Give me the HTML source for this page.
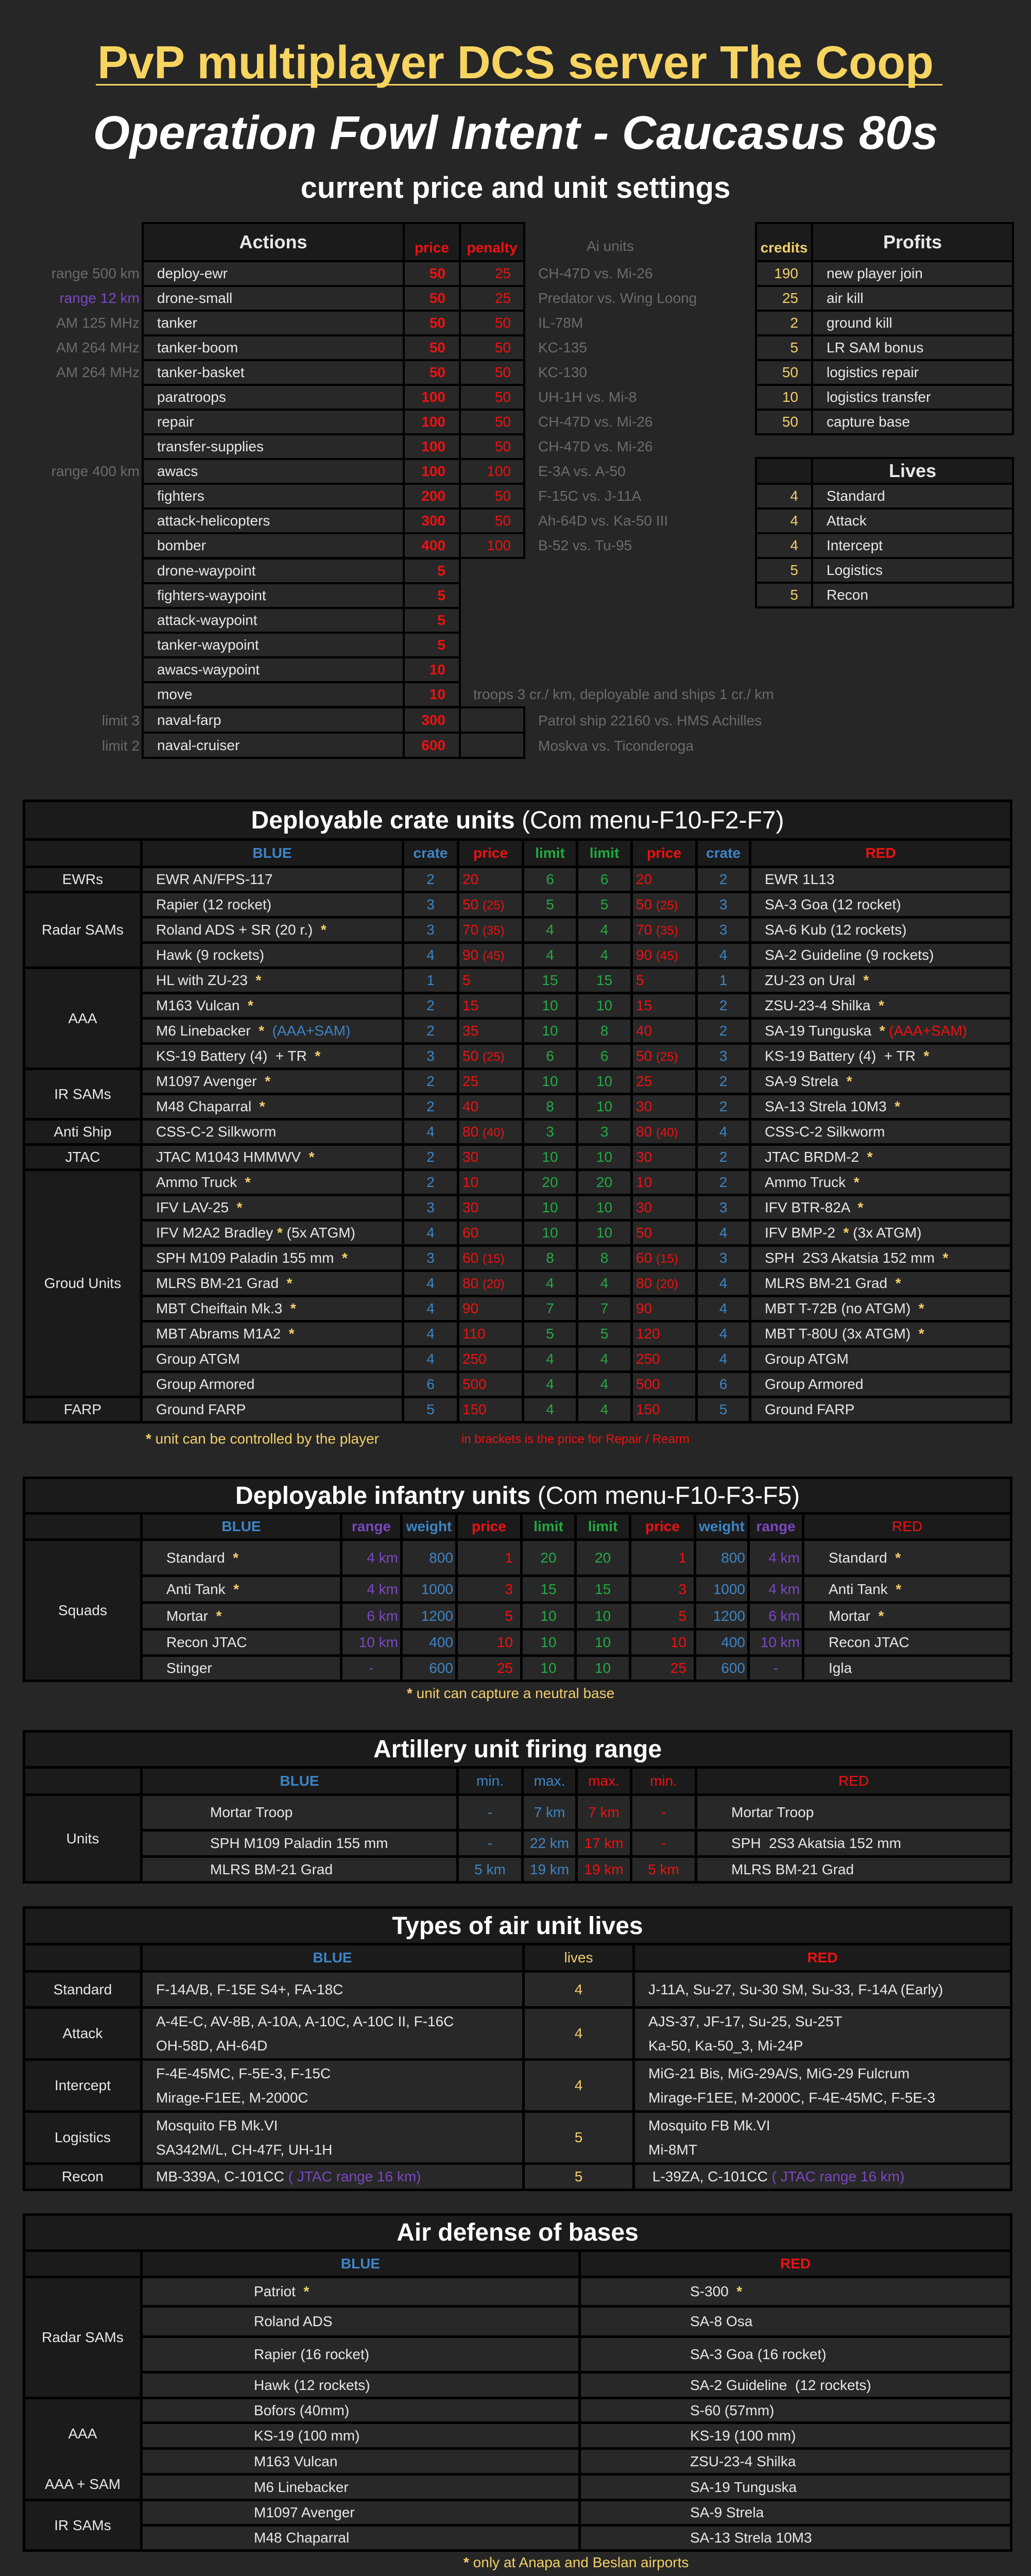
<!DOCTYPE html>
<html><head><meta charset="utf-8">
<style>
*{box-sizing:border-box}
html{margin:0;padding:0;width:2002px;height:5040px;overflow:hidden;background:#262626}
body{margin:0;padding:0;width:2002px;height:5040px;background:#262626;position:relative;overflow:hidden;font-family:"Liberation Sans",Arial,sans-serif;color:#e8e8e8}
.a{position:absolute;white-space:nowrap}
table.t{position:absolute;border-collapse:separate;background:#000;table-layout:fixed}
.t td{background:#282828;color:#e8e8e8;font-size:28px;padding:0;white-space:nowrap;overflow:hidden;vertical-align:middle}
.t td.d{background:#1b1b1b}
.c{text-align:center}
.r{text-align:right}
.bl{color:#3d85c6!important}.rd{color:#ee1111!important}.gr{color:#22aa44!important}.yl{color:#f4d06a!important}.pu{color:#7a48c0!important}.gy{color:#6b6b6b}
.b{font-weight:bold}
.t td.ttl{font-size:48px;font-weight:bold;color:#fff;text-align:center}
.t td.ttl span{font-weight:normal}
.s{font-size:24px}
.st{color:#f4d06a;font-weight:bold}
.n{padding-left:26px!important}
.p{padding-left:6px!important;color:#ee1111!important}
.lb{font-size:28px;color:#6b6b6b;text-align:right;width:260px;left:11px;line-height:44px}
.ai{font-size:28px;color:#6b6b6b;left:1045px;line-height:44px}
.two{line-height:47px}
</style></head><body>

<div class="a" style="left:0;width:2002px;top:77px;text-align:center;font-size:90px;line-height:90px;font-weight:bold;color:#f7d460">PvP multiplayer DCS server The Coop</div>
<div class="a" style="left:186px;width:1644px;top:163px;height:3px;background:#f7d460"></div>
<div class="a" style="left:0;width:2002px;top:212px;text-align:center;font-size:92px;line-height:92px;font-weight:bold;font-style:italic;color:#fff">Operation Fowl Intent - Caucasus 80s</div>
<div class="a" style="left:0;width:2002px;top:336px;text-align:center;font-size:58px;line-height:58px;font-weight:bold;color:#fff">current price and unit settings</div>

<!-- Actions -->
<table class="t" style="left:275px;top:431px;width:745px;border-spacing:4px">
<colgroup><col style="width:503px"><col style="width:105px"><col style="width:121px"></colgroup>
<tr style="height:70px"><td class="d c b" style="font-size:36px">Actions</td><td class="d c b rd" style="vertical-align:bottom;padding-bottom:8px">price</td><td class="d c b rd" style="vertical-align:bottom;padding-bottom:8px">penalty</td></tr>
<tr style="height:44px"><td class="n">deploy-ewr</td><td class="r b rd" style="padding-right:26px">50</td><td class="r rd" style="padding-right:24px">25</td></tr>
<tr style="height:44px"><td class="n">drone-small</td><td class="r b rd" style="padding-right:26px">50</td><td class="r rd" style="padding-right:24px">25</td></tr>
<tr style="height:44px"><td class="n">tanker</td><td class="r b rd" style="padding-right:26px">50</td><td class="r rd" style="padding-right:24px">50</td></tr>
<tr style="height:44px"><td class="n">tanker-boom</td><td class="r b rd" style="padding-right:26px">50</td><td class="r rd" style="padding-right:24px">50</td></tr>
<tr style="height:44px"><td class="n">tanker-basket</td><td class="r b rd" style="padding-right:26px">50</td><td class="r rd" style="padding-right:24px">50</td></tr>
<tr style="height:44px"><td class="n">paratroops</td><td class="r b rd" style="padding-right:26px">100</td><td class="r rd" style="padding-right:24px">50</td></tr>
<tr style="height:44px"><td class="n">repair</td><td class="r b rd" style="padding-right:26px">100</td><td class="r rd" style="padding-right:24px">50</td></tr>
<tr style="height:44px"><td class="n">transfer-supplies</td><td class="r b rd" style="padding-right:26px">100</td><td class="r rd" style="padding-right:24px">50</td></tr>
<tr style="height:44px"><td class="n">awacs</td><td class="r b rd" style="padding-right:26px">100</td><td class="r rd" style="padding-right:24px">100</td></tr>
<tr style="height:44px"><td class="n">fighters</td><td class="r b rd" style="padding-right:26px">200</td><td class="r rd" style="padding-right:24px">50</td></tr>
<tr style="height:44px"><td class="n">attack-helicopters</td><td class="r b rd" style="padding-right:26px">300</td><td class="r rd" style="padding-right:24px">50</td></tr>
<tr style="height:44px"><td class="n">bomber</td><td class="r b rd" style="padding-right:26px">400</td><td class="r rd" style="padding-right:24px">100</td></tr>
</table>
<table class="t" style="left:275px;top:1082px;width:620px;border-spacing:4px">
<colgroup><col style="width:503px"><col style="width:105px"></colgroup>
<tr style="height:44px"><td class="n">drone-waypoint</td><td class="r b rd" style="padding-right:26px">5</td></tr>
<tr style="height:44px"><td class="n">fighters-waypoint</td><td class="r b rd" style="padding-right:26px">5</td></tr>
<tr style="height:44px"><td class="n">attack-waypoint</td><td class="r b rd" style="padding-right:26px">5</td></tr>
<tr style="height:44px"><td class="n">tanker-waypoint</td><td class="r b rd" style="padding-right:26px">5</td></tr>
<tr style="height:44px"><td class="n">awacs-waypoint</td><td class="r b rd" style="padding-right:26px">10</td></tr>
<tr style="height:44px"><td class="n">move</td><td class="r b rd" style="padding-right:26px">10</td></tr>
</table>
<table class="t" style="left:275px;top:1371px;width:745px;border-spacing:4px">
<colgroup><col style="width:503px"><col style="width:105px"><col style="width:121px"></colgroup>
<tr style="height:45px"><td class="n">naval-farp</td><td class="r b rd" style="padding-right:26px">300</td><td></td></tr>
<tr style="height:45px"><td class="n">naval-cruiser</td><td class="r b rd" style="padding-right:26px">600</td><td></td></tr>
</table>

<div class="a lb" style="top:509px">range 500 km</div>
<div class="a lb pu" style="top:557px">range 12 km</div>
<div class="a lb" style="top:605px">AM 125 MHz</div>
<div class="a lb" style="top:653px">AM 264 MHz</div>
<div class="a lb" style="top:701px">AM 264 MHz</div>
<div class="a lb" style="top:893px">range 400 km</div>
<div class="a lb" style="top:1377px">limit 3</div>
<div class="a lb" style="top:1426px">limit 2</div>

<div class="a ai" style="left:1139px;top:456px">Ai units</div>
<div class="a ai" style="top:509px">CH-47D vs. Mi-26</div>
<div class="a ai" style="top:557px">Predator vs. Wing Loong</div>
<div class="a ai" style="top:605px">IL-78M</div>
<div class="a ai" style="top:653px">KC-135</div>
<div class="a ai" style="top:701px">KC-130</div>
<div class="a ai" style="top:749px">UH-1H vs. Mi-8</div>
<div class="a ai" style="top:797px">CH-47D vs. Mi-26</div>
<div class="a ai" style="top:845px">CH-47D vs. Mi-26</div>
<div class="a ai" style="top:893px">E-3A vs. A-50</div>
<div class="a ai" style="top:941px">F-15C vs. J-11A</div>
<div class="a ai" style="top:989px">Ah-64D vs. Ka-50 III</div>
<div class="a ai" style="top:1037px">B-52 vs. Tu-95</div>
<div class="a ai" style="left:919px;top:1326px">troops 3 cr./ km, deployable and ships 1 cr./ km</div>
<div class="a ai" style="top:1377px">Patrol ship 22160 vs. HMS Achilles</div>
<div class="a ai" style="top:1426px">Moskva vs. Ticonderoga</div>

<!-- Profits -->
<table class="t" style="left:1466px;top:431px;width:503px;border-spacing:4px">
<colgroup><col style="width:105px"><col style="width:386px"></colgroup>
<tr style="height:70px"><td class="d c b yl" style="vertical-align:bottom;padding-bottom:8px">credits</td><td class="d c b" style="font-size:36px">Profits</td></tr>
<tr style="height:44px"><td class="r yl" style="padding-right:25px">190</td><td class="n">new player join</td></tr>
<tr style="height:44px"><td class="r yl" style="padding-right:25px">25</td><td class="n">air kill</td></tr>
<tr style="height:44px"><td class="r yl" style="padding-right:25px">2</td><td class="n">ground kill</td></tr>
<tr style="height:44px"><td class="r yl" style="padding-right:25px">5</td><td class="n">LR SAM bonus</td></tr>
<tr style="height:44px"><td class="r yl" style="padding-right:25px">50</td><td class="n">logistics repair</td></tr>
<tr style="height:44px"><td class="r yl" style="padding-right:25px">10</td><td class="n">logistics transfer</td></tr>
<tr style="height:44px"><td class="r yl" style="padding-right:25px">50</td><td class="n">capture base</td></tr>
</table>
<table class="t" style="left:1466px;top:887px;width:503px;border-spacing:4px">
<colgroup><col style="width:105px"><col style="width:386px"></colgroup>
<tr style="height:46px"><td class="d"></td><td class="d c b" style="font-size:36px">Lives</td></tr>
<tr style="height:44px"><td class="r yl" style="padding-right:25px">4</td><td class="n">Standard</td></tr>
<tr style="height:44px"><td class="r yl" style="padding-right:25px">4</td><td class="n">Attack</td></tr>
<tr style="height:44px"><td class="r yl" style="padding-right:25px">4</td><td class="n">Intercept</td></tr>
<tr style="height:44px"><td class="r yl" style="padding-right:25px">5</td><td class="n">Logistics</td></tr>
<tr style="height:44px"><td class="r yl" style="padding-right:25px">5</td><td class="n">Recon</td></tr>
</table>

<!-- Crate units -->
<table class="t" style="left:44px;top:1552px;width:1922px;border-spacing:5px">
<colgroup><col style="width:223px"><col style="width:503px"><col style="width:102px"><col style="width:121px"><col style="width:100px"><col style="width:101px"><col style="width:121px"><col style="width:99px"><col style="width:502px"></colgroup>
<tr style="height:70px"><td colspan="9" class="d ttl">Deployable crate units <span>(Com menu-F10-F2-F7)</span></td></tr>
<tr style="height:48px"><td class="d"></td><td class="d c b bl">BLUE</td><td class="d c b bl">crate</td><td class="d c b rd">price</td><td class="d c b gr">limit</td><td class="d c b gr">limit</td><td class="d c b rd">price</td><td class="d c b bl">crate</td><td class="d c b rd">RED</td></tr>
<tr style="height:44px"><td class="d c">EWRs</td><td class="n">EWR AN/FPS-117</td><td class="c bl">2</td><td class="p">20</td><td class="c gr">6</td><td class="c gr">6</td><td class="p">20</td><td class="c bl">2</td><td class="n">EWR 1L13</td></tr>
<tr style="height:44px"><td class="d c" rowspan="3">Radar SAMs</td><td class="n">Rapier (12 rocket)</td><td class="c bl">3</td><td class="p">50 <span class="s">(25)</span></td><td class="c gr">5</td><td class="c gr">5</td><td class="p">50 <span class="s">(25)</span></td><td class="c bl">3</td><td class="n">SA-3 Goa (12 rocket)</td></tr>
<tr style="height:44px"><td class="n">Roland ADS + SR (20 r.) <span class="st">&nbsp;*</span></td><td class="c bl">3</td><td class="p">70 <span class="s">(35)</span></td><td class="c gr">4</td><td class="c gr">4</td><td class="p">70 <span class="s">(35)</span></td><td class="c bl">3</td><td class="n">SA-6 Kub (12 rockets)</td></tr>
<tr style="height:44px"><td class="n">Hawk (9 rockets)</td><td class="c bl">4</td><td class="p">90 <span class="s">(45)</span></td><td class="c gr">4</td><td class="c gr">4</td><td class="p">90 <span class="s">(45)</span></td><td class="c bl">4</td><td class="n">SA-2 Guideline (9 rockets)</td></tr>
<tr style="height:44px"><td class="d c" rowspan="4">AAA</td><td class="n">HL with ZU-23 <span class="st">&nbsp;*</span></td><td class="c bl">1</td><td class="p">5</td><td class="c gr">15</td><td class="c gr">15</td><td class="p">5</td><td class="c bl">1</td><td class="n">ZU-23 on Ural <span class="st">&nbsp;*</span></td></tr>
<tr style="height:44px"><td class="n">M163 Vulcan <span class="st">&nbsp;*</span></td><td class="c bl">2</td><td class="p">15</td><td class="c gr">10</td><td class="c gr">10</td><td class="p">15</td><td class="c bl">2</td><td class="n">ZSU-23-4 Shilka <span class="st">&nbsp;*</span></td></tr>
<tr style="height:44px"><td class="n">M6 Linebacker <span class="st">&nbsp;*</span> <span class="bl">&nbsp;(AAA+SAM)</span></td><td class="c bl">2</td><td class="p">35</td><td class="c gr">10</td><td class="c gr">8</td><td class="p">40</td><td class="c bl">2</td><td class="n">SA-19 Tunguska <span class="st">&nbsp;*</span> <span class="rd">(AAA+SAM)</span></td></tr>
<tr style="height:44px"><td class="n">KS-19 Battery (4) &nbsp;+ TR <span class="st">&nbsp;*</span></td><td class="c bl">3</td><td class="p">50 <span class="s">(25)</span></td><td class="c gr">6</td><td class="c gr">6</td><td class="p">50 <span class="s">(25)</span></td><td class="c bl">3</td><td class="n">KS-19 Battery (4) &nbsp;+ TR <span class="st">&nbsp;*</span></td></tr>
<tr style="height:44px"><td class="d c" rowspan="2">IR SAMs</td><td class="n">M1097 Avenger <span class="st">&nbsp;*</span></td><td class="c bl">2</td><td class="p">25</td><td class="c gr">10</td><td class="c gr">10</td><td class="p">25</td><td class="c bl">2</td><td class="n">SA-9 Strela <span class="st">&nbsp;*</span></td></tr>
<tr style="height:44px"><td class="n">M48 Chaparral <span class="st">&nbsp;*</span></td><td class="c bl">2</td><td class="p">40</td><td class="c gr">8</td><td class="c gr">10</td><td class="p">30</td><td class="c bl">2</td><td class="n">SA-13 Strela 10M3 <span class="st">&nbsp;*</span></td></tr>
<tr style="height:44px"><td class="d c">Anti Ship</td><td class="n">CSS-C-2 Silkworm</td><td class="c bl">4</td><td class="p">80 <span class="s">(40)</span></td><td class="c gr">3</td><td class="c gr">3</td><td class="p">80 <span class="s">(40)</span></td><td class="c bl">4</td><td class="n">CSS-C-2 Silkworm</td></tr>
<tr style="height:44px"><td class="d c">JTAC</td><td class="n">JTAC M1043 HMMWV <span class="st">&nbsp;*</span></td><td class="c bl">2</td><td class="p">30</td><td class="c gr">10</td><td class="c gr">10</td><td class="p">30</td><td class="c bl">2</td><td class="n">JTAC BRDM-2 <span class="st">&nbsp;*</span></td></tr>
<tr style="height:44px"><td class="d c" rowspan="9">Groud Units</td><td class="n">Ammo Truck <span class="st">&nbsp;*</span></td><td class="c bl">2</td><td class="p">10</td><td class="c gr">20</td><td class="c gr">20</td><td class="p">10</td><td class="c bl">2</td><td class="n">Ammo Truck <span class="st">&nbsp;*</span></td></tr>
<tr style="height:44px"><td class="n">IFV LAV-25 <span class="st">&nbsp;*</span></td><td class="c bl">3</td><td class="p">30</td><td class="c gr">10</td><td class="c gr">10</td><td class="p">30</td><td class="c bl">3</td><td class="n">IFV BTR-82A <span class="st">&nbsp;*</span></td></tr>
<tr style="height:44px"><td class="n">IFV M2A2 Bradley <span class="st">*</span> (5x ATGM)</td><td class="c bl">4</td><td class="p">60</td><td class="c gr">10</td><td class="c gr">10</td><td class="p">50</td><td class="c bl">4</td><td class="n">IFV BMP-2 <span class="st">&nbsp;*</span> (3x ATGM)</td></tr>
<tr style="height:44px"><td class="n">SPH M109 Paladin 155 mm <span class="st">&nbsp;*</span></td><td class="c bl">3</td><td class="p">60 <span class="s">(15)</span></td><td class="c gr">8</td><td class="c gr">8</td><td class="p">60 <span class="s">(15)</span></td><td class="c bl">3</td><td class="n">SPH &nbsp;2S3 Akatsia 152 mm <span class="st">&nbsp;*</span></td></tr>
<tr style="height:44px"><td class="n">MLRS BM-21 Grad <span class="st">&nbsp;*</span></td><td class="c bl">4</td><td class="p">80 <span class="s">(20)</span></td><td class="c gr">4</td><td class="c gr">4</td><td class="p">80 <span class="s">(20)</span></td><td class="c bl">4</td><td class="n">MLRS BM-21 Grad <span class="st">&nbsp;*</span></td></tr>
<tr style="height:44px"><td class="n">MBT Cheiftain Mk.3 <span class="st">&nbsp;*</span></td><td class="c bl">4</td><td class="p">90</td><td class="c gr">7</td><td class="c gr">7</td><td class="p">90</td><td class="c bl">4</td><td class="n">MBT T-72B (no ATGM) <span class="st">&nbsp;*</span></td></tr>
<tr style="height:44px"><td class="n">MBT Abrams M1A2 <span class="st">&nbsp;*</span></td><td class="c bl">4</td><td class="p">110</td><td class="c gr">5</td><td class="c gr">5</td><td class="p">120</td><td class="c bl">4</td><td class="n">MBT T-80U (3x ATGM) <span class="st">&nbsp;*</span></td></tr>
<tr style="height:44px"><td class="n">Group ATGM</td><td class="c bl">4</td><td class="p">250</td><td class="c gr">4</td><td class="c gr">4</td><td class="p">250</td><td class="c bl">4</td><td class="n">Group ATGM</td></tr>
<tr style="height:44px"><td class="n">Group Armored</td><td class="c bl">6</td><td class="p">500</td><td class="c gr">4</td><td class="c gr">4</td><td class="p">500</td><td class="c bl">6</td><td class="n">Group Armored</td></tr>
<tr style="height:44px"><td class="d c">FARP</td><td class="n">Ground FARP</td><td class="c bl">5</td><td class="p">150</td><td class="c gr">4</td><td class="c gr">4</td><td class="p">150</td><td class="c bl">5</td><td class="n">Ground FARP</td></tr>
</table>
<div class="a yl" style="left:283px;top:2776px;font-size:28px;line-height:34px"><b>*</b> unit can be controlled by the player</div>
<div class="a rd" style="left:896px;top:2779px;font-size:24px;line-height:30px">in brackets is the price for Repair / Rearm</div>

<!-- Infantry -->
<table class="t" style="left:44px;top:2866px;width:1922px;border-spacing:5px">
<colgroup><col style="width:223px"><col style="width:383px"><col style="width:112px"><col style="width:102px"><col style="width:121px"><col style="width:100px"><col style="width:101px"><col style="width:121px"><col style="width:99px"><col style="width:101px"><col style="width:399px"></colgroup>
<tr style="height:64px"><td colspan="11" class="d ttl">Deployable infantry units <span>(Com menu-F10-F3-F5)</span></td></tr>
<tr style="height:46px"><td class="d"></td><td class="d c b bl">BLUE</td><td class="d c b pu">range</td><td class="d c b bl">weight</td><td class="d c b rd">price</td><td class="d c b gr">limit</td><td class="d c b gr">limit</td><td class="d c b rd">price</td><td class="d c b bl">weight</td><td class="d c b pu">range</td><td class="d c rd">RED</td></tr>
<tr style="height:65px"><td class="d c" rowspan="5">Squads</td><td style="padding-left:46px">Standard <span class="st">&nbsp;*</span></td><td class="r pu" style="padding-right:4px">4 km</td><td class="r bl" style="padding-right:4px">800</td><td class="r rd" style="padding-right:14px">1</td><td class="c gr">20</td><td class="c gr">20</td><td class="r rd" style="padding-right:14px">1</td><td class="r bl" style="padding-right:4px">800</td><td class="r pu" style="padding-right:4px">4 km</td><td style="padding-left:47px">Standard <span class="st">&nbsp;*</span></td></tr>
<tr style="height:47px"><td style="padding-left:46px">Anti Tank <span class="st">&nbsp;*</span></td><td class="r pu" style="padding-right:4px">4 km</td><td class="r bl" style="padding-right:4px">1000</td><td class="r rd" style="padding-right:14px">3</td><td class="c gr">15</td><td class="c gr">15</td><td class="r rd" style="padding-right:14px">3</td><td class="r bl" style="padding-right:4px">1000</td><td class="r pu" style="padding-right:4px">4 km</td><td style="padding-left:47px">Anti Tank <span class="st">&nbsp;*</span></td></tr>
<tr style="height:47px"><td style="padding-left:46px">Mortar <span class="st">&nbsp;*</span></td><td class="r pu" style="padding-right:4px">6 km</td><td class="r bl" style="padding-right:4px">1200</td><td class="r rd" style="padding-right:14px">5</td><td class="c gr">10</td><td class="c gr">10</td><td class="r rd" style="padding-right:14px">5</td><td class="r bl" style="padding-right:4px">1200</td><td class="r pu" style="padding-right:4px">6 km</td><td style="padding-left:47px">Mortar <span class="st">&nbsp;*</span></td></tr>
<tr style="height:46px"><td style="padding-left:46px">Recon JTAC</td><td class="r pu" style="padding-right:4px">10 km</td><td class="r bl" style="padding-right:4px">400</td><td class="r rd" style="padding-right:14px">10</td><td class="c gr">10</td><td class="c gr">10</td><td class="r rd" style="padding-right:14px">10</td><td class="r bl" style="padding-right:4px">400</td><td class="r pu" style="padding-right:4px">10 km</td><td style="padding-left:47px">Recon JTAC</td></tr>
<tr style="height:44px"><td style="padding-left:46px">Stinger</td><td class="c pu">-</td><td class="r bl" style="padding-right:4px">600</td><td class="r rd" style="padding-right:14px">25</td><td class="c gr">10</td><td class="c gr">10</td><td class="r rd" style="padding-right:14px">25</td><td class="r bl" style="padding-right:4px">600</td><td class="c pu">-</td><td style="padding-left:47px">Igla</td></tr>
</table>
<div class="a yl" style="left:790px;top:3270px;font-size:28px;line-height:34px"><b>*</b> unit can capture a neutral base</div>

<!-- Artillery -->
<table class="t" style="left:44px;top:3358px;width:1922px;border-spacing:5px">
<colgroup><col style="width:223px"><col style="width:609px"><col style="width:121px"><col style="width:100px"><col style="width:101px"><col style="width:121px"><col style="width:607px"></colgroup>
<tr style="height:65px"><td colspan="7" class="d ttl">Artillery unit firing range</td></tr>
<tr style="height:48px"><td class="d"></td><td class="d c b bl">BLUE</td><td class="d c bl">min.</td><td class="d c bl">max.</td><td class="d c rd">max.</td><td class="d c rd">min.</td><td class="d c rd">RED</td></tr>
<tr style="height:64px"><td class="d c" rowspan="3">Units</td><td style="padding-left:131px">Mortar Troop</td><td class="c bl">-</td><td class="c bl">7 km</td><td class="c rd">7 km</td><td class="c rd">-</td><td style="padding-left:66px">Mortar Troop</td></tr>
<tr style="height:46px"><td style="padding-left:131px">SPH M109 Paladin 155 mm</td><td class="c bl">-</td><td class="c bl">22 km</td><td class="c rd">17 km</td><td class="c rd">-</td><td style="padding-left:66px">SPH &nbsp;2S3 Akatsia 152 mm</td></tr>
<tr style="height:45px"><td style="padding-left:131px">MLRS BM-21 Grad</td><td class="c bl">5 km</td><td class="c bl">19 km</td><td class="c rd">19 km</td><td class="c rd">5 km</td><td style="padding-left:66px">MLRS BM-21 Grad</td></tr>
</table>

<!-- Air lives -->
<table class="t" style="left:44px;top:3700px;width:1922px;border-spacing:5px">
<colgroup><col style="width:223px"><col style="width:737px"><col style="width:209px"><col style="width:728px"></colgroup>
<tr style="height:66px"><td colspan="4" class="d ttl">Types of air unit lives</td></tr>
<tr style="height:48px"><td class="d"></td><td class="d c b bl">BLUE</td><td class="d c yl">lives</td><td class="d c b rd">RED</td></tr>
<tr style="height:65px"><td class="d c">Standard</td><td class="n">F-14A/B, F-15E S4+, FA-18C</td><td class="c yl">4</td><td class="n">J-11A, Su-27, Su-30 SM, Su-33, F-14A (Early)</td></tr>
<tr style="height:96px"><td class="d c">Attack</td><td class="n two">A-4E-C, AV-8B, A-10A, A-10C, A-10C II, F-16C<br>OH-58D, AH-64D</td><td class="c yl">4</td><td class="n two">AJS-37, JF-17, Su-25, Su-25T<br>Ka-50, Ka-50_3, Mi-24P</td></tr>
<tr style="height:96px"><td class="d c">Intercept</td><td class="n two">F-4E-45MC, F-5E-3, F-15C<br>Mirage-F1EE, M-2000C</td><td class="c yl">4</td><td class="n two">MiG-21 Bis, MiG-29A/S, MiG-29 Fulcrum<br>Mirage-F1EE, M-2000C, F-4E-45MC, F-5E-3</td></tr>
<tr style="height:96px"><td class="d c">Logistics</td><td class="n two">Mosquito FB Mk.VI<br>SA342M/L, CH-47F, UH-1H</td><td class="c yl">5</td><td class="n two">Mosquito FB Mk.VI<br>Mi-8MT</td></tr>
<tr style="height:46px"><td class="d c">Recon</td><td class="n">MB-339A, C-101CC <span class="pu">( JTAC range 16 km)</span></td><td class="c yl">5</td><td class="n">&nbsp;L-39ZA, C-101CC <span class="pu">( JTAC range 16 km)</span></td></tr>
</table>

<!-- Air defense -->
<table class="t" style="left:44px;top:4296px;width:1922px;border-spacing:5px">
<colgroup><col style="width:223px"><col style="width:846px"><col style="width:833px"></colgroup>
<tr style="height:65px"><td colspan="3" class="d ttl">Air defense of bases</td></tr>
<tr style="height:46px"><td class="d"></td><td class="d c b bl">BLUE</td><td class="d c b rd">RED</td></tr>
<tr style="height:52px"><td class="d c" rowspan="4">Radar SAMs</td><td style="padding-left:216px">Patriot <span class="st">&nbsp;*</span></td><td style="padding-left:212px">S-300 <span class="st">&nbsp;*</span></td></tr>
<tr style="height:54px"><td style="padding-left:216px">Roland ADS</td><td style="padding-left:212px">SA-8 Osa</td></tr>
<tr style="height:64px"><td style="padding-left:216px">Rapier (16 rocket)</td><td style="padding-left:212px">SA-3 Goa (16 rocket)</td></tr>
<tr style="height:45px"><td style="padding-left:216px">Hawk (12 rockets)</td><td style="padding-left:212px">SA-2 Guideline &nbsp;(12 rockets)</td></tr>
<tr style="height:43px"><td class="d c" rowspan="4" style="vertical-align:top;line-height:34px"><div style="margin-top:50px">AAA</div><div style="margin-top:64px">AAA + SAM</div></td><td style="padding-left:216px">Bofors (40mm)</td><td style="padding-left:212px">S-60 (57mm)</td></tr>
<tr style="height:45px"><td style="padding-left:216px">KS-19 (100 mm)</td><td style="padding-left:212px">KS-19 (100 mm)</td></tr>
<tr style="height:45px"><td style="padding-left:216px">M163 Vulcan</td><td style="padding-left:212px">ZSU-23-4 Shilka</td></tr>
<tr style="height:45px"><td style="padding-left:216px">M6 Linebacker</td><td style="padding-left:212px">SA-19 Tunguska</td></tr>
<tr style="height:44px"><td class="d c" rowspan="2">IR SAMs</td><td style="padding-left:216px">M1097 Avenger</td><td style="padding-left:212px">SA-9 Strela</td></tr>
<tr style="height:44px"><td style="padding-left:216px">M48 Chaparral</td><td style="padding-left:212px">SA-13 Strela 10M3</td></tr>
</table>
<div class="a yl" style="left:900px;top:4957px;font-size:28px;line-height:34px"><b>*</b> only at Anapa and Beslan airports</div>

</body></html>
